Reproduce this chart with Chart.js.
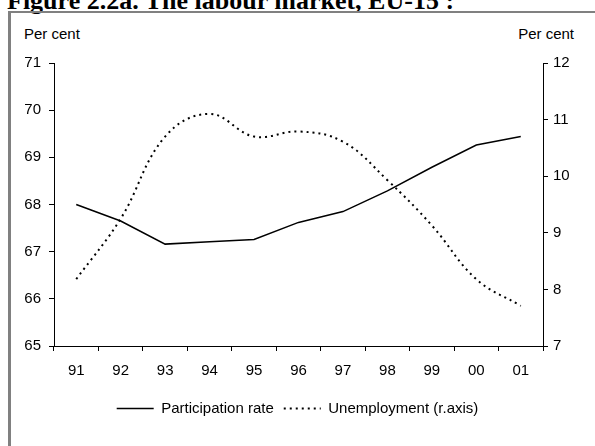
<!DOCTYPE html>
<html>
<head>
<meta charset="utf-8">
<script src="https://cdn.jsdelivr.net/npm/chart.js@4.4.0/dist/chart.umd.min.js"></script>
<style>
  body { margin: 0; background: #fff; }
  #wrap { position: relative; width: 595px; height: 446px; overflow: hidden; background: #fff; }
  #title { position: absolute; left: 7px; top: -12px; font: bold 26px "Liberation Serif", "Times New Roman", serif; line-height: 26px; white-space: nowrap; color: #000; }
  #frameTop { position: absolute; left: 8px; top: 11px; width: 587px; height: 2px; background: #808080; }
  #frameLeft { position: absolute; left: 8px; top: 11px; width: 3px; height: 435px; background: #808080; }
  .unit { position: absolute; top: 25px; font: 15px "Liberation Sans", Arial, sans-serif; color: #000; }
  #unitL { left: 24px; }
  #unitR { right: 21px; }
  canvas { position: absolute; left: 0; top: 0; }
</style>
</head>
<body>
<div id="wrap">
  <div id="title">Figure 2.2a. The labour market, EU-15 :</div>
  <div id="frameTop"></div>
  <div id="frameLeft"></div>
  <div class="unit" id="unitL">Per cent</div>
  <div class="unit" id="unitR">Per cent</div>
  <canvas id="chart_labour" width="595" height="446"></canvas>
</div>
<script>
const years = ['91', '92', '93', '94', '95', '96', '97', '98', '99', '00', '01'];
const participation = [68.0, 67.65, 67.16, 67.21, 67.26, 67.62, 67.85, 68.29, 68.79, 69.26, 69.44];
const unemployment = [8.18, 9.25, 10.70, 11.10, 10.70, 10.79, 10.61, 9.93, 9.13, 8.18, 7.71];

const fontFamily = '"Liberation Sans", Arial, sans-serif';

const chartData = {
  labels: years,
  datasets: [
    {
      label: 'Participation rate',
      data: participation,
      borderColor: '#000',
      backgroundColor: '#000',
      borderWidth: 1.5,
      pointRadius: 0,
      tension: 0,
      pointStyle: 'line',
      yAxisID: 'y'
    },
    {
      label: 'Unemployment (r.axis)',
      data: unemployment,
      borderColor: '#000',
      backgroundColor: '#000',
      borderWidth: 2,
      borderDash: [2, 4],
      pointRadius: 0,
      tension: 0.4,
      pointStyle: 'line',
      yAxisID: 'y1'
    }
  ]
};

// legend line samples take the dash of their dataset
function legendLabels(chart) {
  return Chart.defaults.plugins.legend.labels.generateLabels(chart).map((item, i) => {
    const ds = chart.data.datasets[i];
    item.lineDash = ds.borderDash || [];
    item.lineWidth = ds.borderWidth;
    return item;
  });
}

const chartConfig = {
  type: 'line',
  data: chartData,
  options: {
    responsive: false,
    animation: false,
    layout: { padding: { top: 63, left: 0, right: 0, bottom: 20 } },
    plugins: {
      tooltip: { enabled: false },
      legend: {
        position: 'bottom',
        labels: {
          color: '#000',
          font: { family: fontFamily, size: 15 },
          usePointStyle: true,
          pointStyleWidth: 37,
          padding: 10,
          generateLabels: legendLabels
        }
      }
    },
    scales: {
      x: {
        offset: true,
        afterFit: s => { s.height = 45; },
        grid: { offset: true, drawOnChartArea: false, tickLength: 5, color: '#000' },
        border: { color: '#000', width: 1 },
        ticks: { color: '#000', font: { family: fontFamily, size: 15 }, padding: 11, maxRotation: 0 }
      },
      y: {
        position: 'left',
        min: 65,
        max: 71,
        afterFit: s => { s.width = 54; },
        grid: { drawOnChartArea: false, tickLength: 5, color: '#000' },
        border: { color: '#000', width: 1 },
        ticks: { stepSize: 1, color: '#000', font: { family: fontFamily, size: 15 }, padding: 8 }
      },
      y1: {
        position: 'right',
        min: 7,
        max: 12,
        afterFit: s => { s.width = 52; },
        grid: { drawOnChartArea: false, tickLength: 5, color: '#000' },
        border: { color: '#000', width: 1 },
        ticks: { stepSize: 1, color: '#000', font: { family: fontFamily, size: 15 }, padding: 5 }
      }
    }
  }
};

const chartElement = document.getElementById('chart_labour');
const chart = new Chart(chartElement, chartConfig);
</script>
</body>
</html>
